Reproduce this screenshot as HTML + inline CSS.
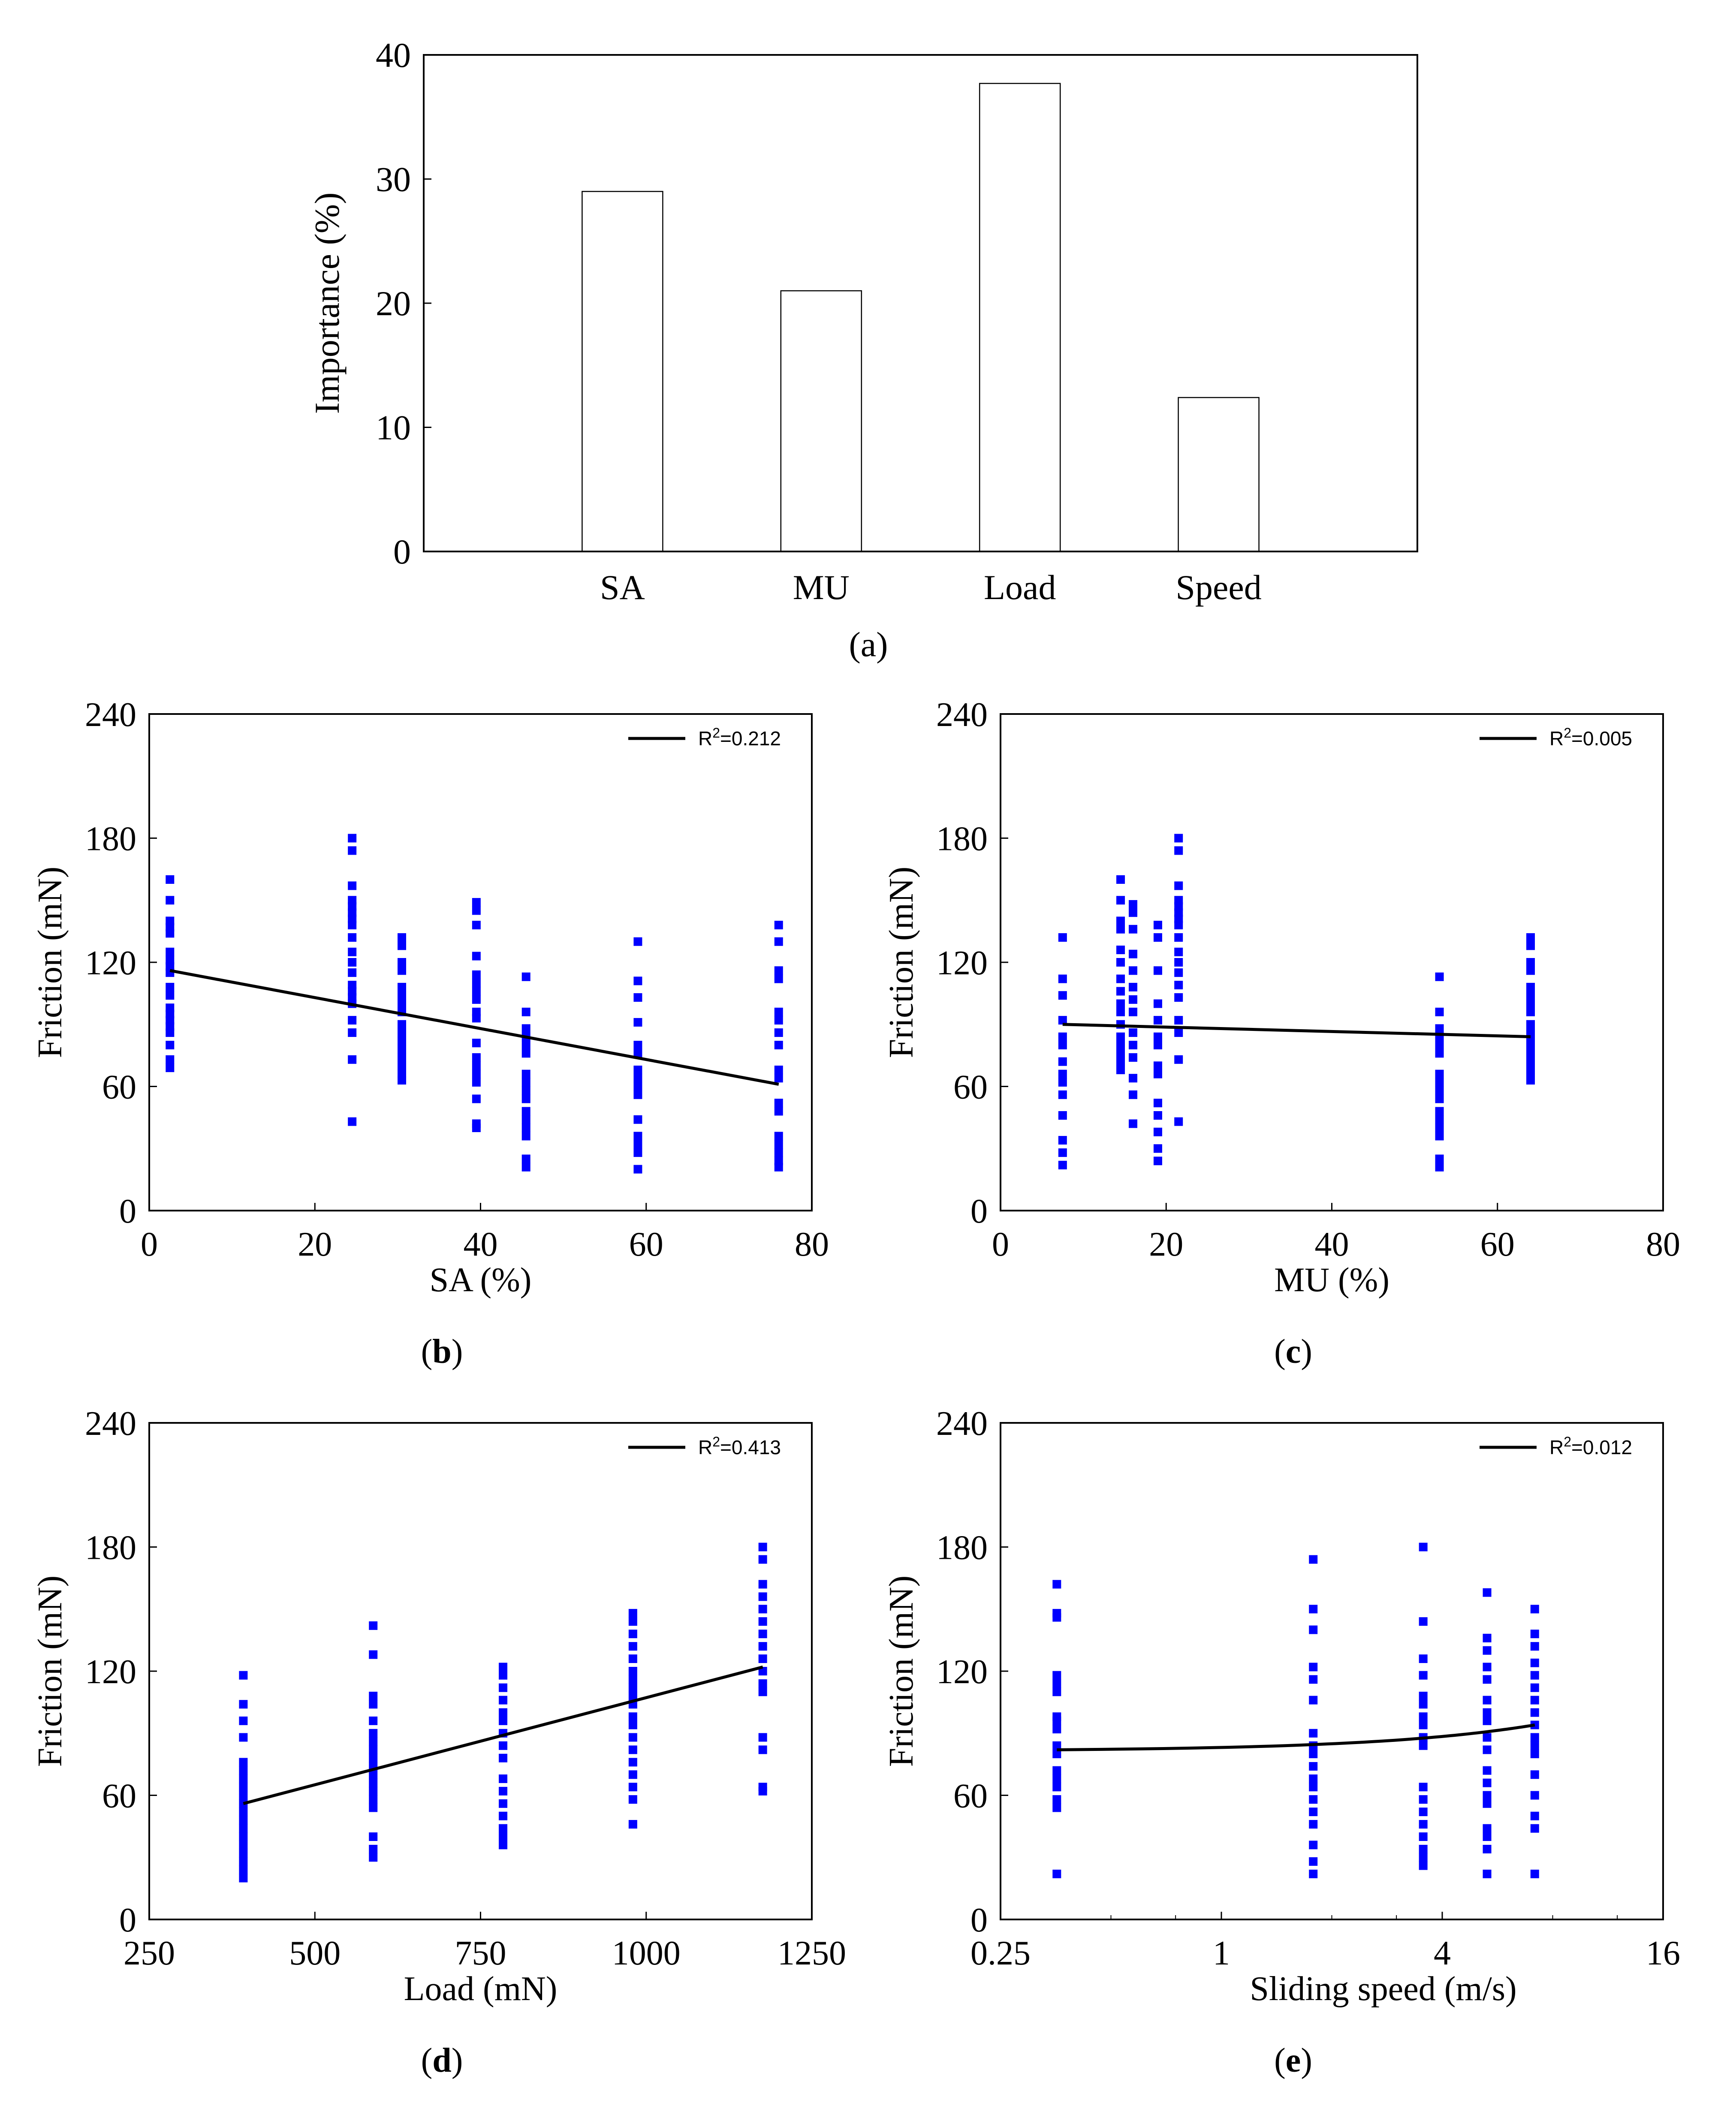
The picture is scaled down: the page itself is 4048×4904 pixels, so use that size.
<!DOCTYPE html>
<html><head><meta charset="utf-8"><style>
html,body{margin:0;padding:0;background:#fff;}
svg{display:block;}
text{font-family:"Liberation Serif",serif;fill:#000;}
.leg{font-family:"Liberation Sans",sans-serif;}
</style></head><body>
<svg id="fig" width="4048" height="4904" viewBox="0 0 4048 4904" xmlns="http://www.w3.org/2000/svg"></svg>
<script>
// ---- bar chart data ----
const barCategories = ["SA","MU","Load","Speed"];
const barValues = [29.0, 21.0, 37.7, 12.4];
const barTicks = [0,10,20,30,40];
// ---- scatter b (SA) ----
const saLevels = [2.5, 24.5, 30.5, 39.5, 45.5, 59, 76];
const saFriction = [
 [160,150,140,137,134,125,121,118,115,108,104,98,95,92,89,86,80,73,69],
 [180,174,157,150,147,144,141,138,132,125,120,115,109,106,103,100,92,86,73,43],
 [132,128,120,116,108,104,100,96,90,86,82,78,74,70,66,63],
 [149,145,138,123,114,110,106,102,96,93,81,74,70,66,62,54,42,40],
 [113,96,88,84,80,76,66,62,58,54,48,44,40,36,25,21],
 [130,111,103,91,80,76,68,64,60,56,44,36,32,28,20],
 [138,130,116,112,96,92,86,80,68,64,52,48,36,32,28,24,21]
];
const saFit = [117.9, -0.748];
const saFitRange = [2.5, 76];
// ---- scatter c (MU) ----
const muLevels = [7.5, 14.5, 16, 19, 21.5, 53, 64];
const muFriction = [
 [132,112,104,92,84,80,72,66,62,56,46,34,28,22],
 [160,150,140,136,126,120,112,106,100,96,90,84,80,76,72,68],
 [148,144,136,124,116,108,102,96,86,80,74,64,56,42],
 [138,132,116,100,92,84,80,70,66,52,46,38,30,24],
 [180,174,157,150,147,144,141,138,132,125,120,115,109,103,92,86,73,43],
 [113,96,88,84,80,76,66,62,58,54,48,44,40,36,25,21],
 [132,128,120,116,108,104,100,96,90,86,82,78,74,70,66,63]
];
const muFit = [90.8, -0.106];
const muFitRange = [7.5, 64];
// ---- scatter d (Load) ----
const loadLevels = [392, 588, 784, 980, 1176];
const loadFriction = [
 [118,104,96,88,76,72,68,64,60,56,52,48,44,40,36,32,28,24,20],
 [142,128,108,104,96,90,86,82,78,74,70,66,62,58,54,40,34,30],
 [122,118,112,106,100,96,90,84,78,68,62,56,50,44,40,36],
 [148,144,138,132,126,120,116,112,108,104,98,94,88,82,76,70,64,58,46],
 [180,174,162,156,150,144,138,132,126,120,114,110,88,82,64,62]
];
const loadFit = [23.0, 0.0842];
const loadFitRange = [392, 1176];
// ---- scatter e (Speed) ----
const speedLevels = [0.356, 1.78, 3.55, 5.3, 7.15];
const speedFriction = [
 [162,148,146,118,114,110,98,96,92,84,80,72,68,64,58,54,22],
 [174,150,140,122,116,106,90,84,80,74,68,64,58,52,46,36,28,22],
 [180,144,126,118,108,104,98,94,88,84,64,58,52,46,40,34,30,26],
 [158,136,130,122,116,106,100,96,88,82,72,66,60,56,44,40,34,22],
 [150,138,132,124,118,112,106,100,94,88,84,80,70,60,50,44,22]
];
const speedFit = [81.37, 1.767];
const speedFitRange = [0.356, 7.15];
const fricTicks = [0,60,120,180,240];
const saTicks = [0,20,40,60,80];
const loadTicks = [250,500,750,1000,1250];
const speedTicks = [0.25,1,4,16];
const r2Labels = ["0.212","0.005","0.413","0.012"];

const NS="http://www.w3.org/2000/svg";
const svg=document.getElementById('fig');
function mk(tag,attrs,parent){const e=document.createElementNS(NS,tag);for(const k in attrs)e.setAttribute(k,attrs[k]);(parent||svg).appendChild(e);return e;}
function txt(s,attrs,parent){const e=mk('text',attrs,parent);e.textContent=s;return e;}

// ===== bar chart =====
(function(){
 const L=988,R=3305,T=128,B=1286;
 const g=mk('g',{});
 
 
 const y=v=>B-(v/40)*(B-T);
 const bw=188;
 barValues.forEach((v,i)=>{
  const cx=L+(i+1)*(R-L)/5;
  const r=mk('rect',{x:cx-bw/2,y:y(v),width:bw,height:B-y(v),fill:'#fff',stroke:'#000','stroke-width':2.5},g);
  
  
  const t=txt(barCategories[i],{x:cx,y:1397,'font-size':82,'text-anchor':'middle'},g);
  
  
 });
 barTicks.forEach(v=>{
  mk('line',{x1:L,x2:L+18,y1:y(v),y2:y(v),stroke:'#000','stroke-width':3},g);
  const t=txt(String(v),{x:958,y:y(v)+28,'font-size':82,'text-anchor':'end'},g);
  
  
 });
 mk('rect',{x:L,y:T,width:R-L,height:B-T,fill:'none',stroke:'#000','stroke-width':4},g);
 const yt=txt('Importance (%)',{x:0,y:0,'font-size':82,'text-anchor':'middle',transform:'translate(790,707) rotate(-90)'},g);
 
 
 const cap=txt('(a)',{x:2025,y:1530,'font-size':82,'text-anchor':'middle'},g);
 
 
})();

// ===== scatter panels =====
function panel(o){
 const {L,T,name,label,xTitle,xTicks,xmin,xmax,log,levels,data,fit,fitRange,r2,titleShift}=o;
 const W=1545,H=1158,R=L+W,B=T+H;
 const g=mk('g',{});
 
 
 const xs=v=>log?L+(Math.log2(v)-Math.log2(xmin))/(Math.log2(xmax)-Math.log2(xmin))*W:L+(v-xmin)/(xmax-xmin)*W;
 const ys=v=>B-(v/240)*H;
 fricTicks.forEach(v=>{
  mk('line',{x1:L,x2:L+18,y1:ys(v),y2:ys(v),stroke:'#000','stroke-width':3},g);
  const t=txt(String(v),{x:L-30,y:ys(v)+28,'font-size':80,'text-anchor':'end'},g);
  
  
 });
 xTicks.forEach(v=>{
  mk('line',{x1:xs(v),x2:xs(v),y1:B,y2:B-18,stroke:'#000','stroke-width':3},g);
  const t=txt(String(v),{x:xs(v),y:B+105,'font-size':80,'text-anchor':'middle'},g);
  
  
 });
 if(log){
  for(let i=0;i<xTicks.length-1;i++){
   const a=xTicks[i];
   for(let m=2;m<4;m++){const v=a*m;mk('line',{x1:xs(v),x2:xs(v),y1:B,y2:B-10,stroke:'#000','stroke-width':2},g);}
  }
 }
 levels.forEach((xv,i)=>{
  data[i].forEach(yv=>{
   const p=mk('rect',{x:xs(xv)-10,y:ys(yv)-10,width:20,height:20,fill:'#0000ff'},g);
   
   
  });
 });
 let pts=[];
 const N=log?60:2;
 for(let k=0;k<=N;k++){
  const xv=fitRange[0]+(fitRange[1]-fitRange[0])*k/N;
  pts.push(xs(xv).toFixed(1)+','+ys(fit[0]+fit[1]*xv).toFixed(1));
 }
 const fl=mk('polyline',{points:pts.join(' '),fill:'none',stroke:'#000','stroke-width':7},g);
 
 
 mk('rect',{x:L,y:T,width:W,height:H,fill:'none',stroke:'#000','stroke-width':4},g);
 const lg=mk('g',{},g);
 
 
 mk('line',{x1:L+1117,x2:L+1250,y1:T+57,y2:T+57,stroke:'#000','stroke-width':7},lg);
 const lt=txt('',{x:L+1280,y:T+73,'font-size':46,class:'leg'},lg);
 const t1=document.createElementNS(NS,'tspan');t1.textContent='R';lt.appendChild(t1);
 const t2=document.createElementNS(NS,'tspan');t2.setAttribute('dy','-18');t2.setAttribute('font-size','32');t2.textContent='2';lt.appendChild(t2);
 const t3=document.createElementNS(NS,'tspan');t3.setAttribute('dy','18');t3.textContent='='+r2;lt.appendChild(t3);
 const xt=txt(xTitle,{x:L+W/2+(titleShift||0),y:B+188,'font-size':80,'text-anchor':'middle'},g);
 
 
 const yt=txt('Friction (mN)',{x:0,y:0,'font-size':80,'text-anchor':'middle',transform:'translate('+(L-205)+','+(T+H/2)+') rotate(-90)'},g);
 
 
 const cap=txt('',{x:L+W/2-90,y:B+355,'font-size':80,'text-anchor':'middle'},g);
 cap.appendChild(document.createTextNode('('));
 const bt=document.createElementNS(NS,'tspan');bt.setAttribute('font-weight','bold');bt.textContent=label;cap.appendChild(bt);
 cap.appendChild(document.createTextNode(')'));
 
 
}
panel({L:348,T:1665,name:'sa-scatter',label:'b',xTitle:'SA (%)',xTicks:saTicks,xmin:0,xmax:80,levels:saLevels,data:saFriction,fit:saFit,fitRange:saFitRange,r2:r2Labels[0]});
panel({L:2333,T:1665,name:'mu-scatter',label:'c',xTitle:'MU (%)',xTicks:saTicks,xmin:0,xmax:80,levels:muLevels,data:muFriction,fit:muFit,fitRange:muFitRange,r2:r2Labels[1]});
panel({L:348,T:3318,name:'load-scatter',label:'d',xTitle:'Load (mN)',xTicks:loadTicks,xmin:250,xmax:1250,levels:loadLevels,data:loadFriction,fit:loadFit,fitRange:loadFitRange,r2:r2Labels[2]});
panel({L:2333,T:3318,name:'speed-scatter',label:'e',xTitle:'Sliding speed (m/s)',xTicks:speedTicks,xmin:0.25,xmax:16,log:true,levels:speedLevels,data:speedFriction,fit:speedFit,fitRange:speedFitRange,r2:r2Labels[3],titleShift:120});
</script>
</body></html>
